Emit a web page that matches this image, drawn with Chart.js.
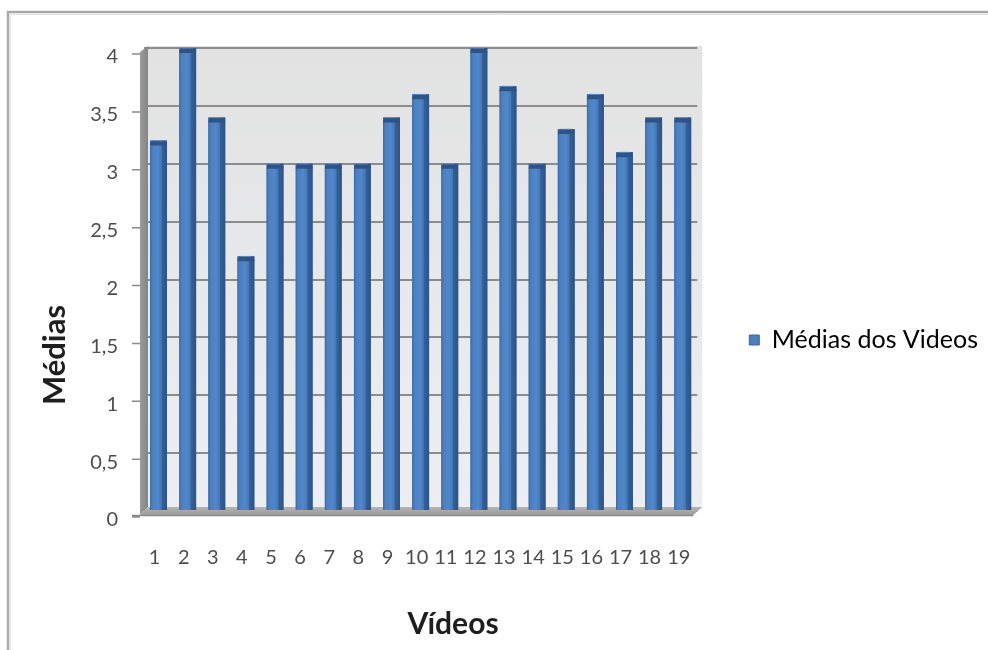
<!DOCTYPE html>
<html>
<head>
<meta charset="utf-8">
<script src="https://cdn.jsdelivr.net/npm/chart.js@4/dist/chart.umd.min.js"></script>
<style>
  html, body { margin: 0; padding: 0; background: #ffffff; }
  #wrap { width: 988px; height: 650px; position: relative; }
</style>
</head>
<body>
<div id="wrap"><canvas id="c" width="988" height="650"></canvas></div>
<script>
// Average score per video
const videoLabels = ['1','2','3','4','5','6','7','8','9','10','11','12','13','14','15','16','17','18','19'];
const videoMeans = [3.2, 4, 3.4, 2.2, 3, 3, 3, 3, 3.4, 3.6, 3, 4, 3.67, 3, 3.3, 3.6, 3.1, 3.4, 3.4];
const yTickLabels = ['0','0,5','1','1,5','2','2,5','3','3,5','4'];
const seriesName = 'Médias dos Videos';
const xTitle = 'Vídeos';
const yTitle = 'Médias';

const FONT = 'Lato, "Open Sans", sans-serif';

// Frame, back wall, side wall, floor and bar shading in the Excel 3D style
const excel3d = {
  id: 'excel3d',
  beforeDraw(chart) {
    const { ctx, chartArea: a } = chart;
    ctx.save();
    ctx.fillStyle = '#ffffff';
    ctx.fillRect(0, 0, chart.width, chart.height);
    // outer frame
    ctx.strokeStyle = '#a9a9a9';
    ctx.lineWidth = 2.5;
    ctx.beginPath();
    ctx.moveTo(8, chart.height);
    ctx.lineTo(8, 12);
    ctx.lineTo(chart.width, 12);
    ctx.stroke();
    ctx.strokeStyle = 'rgba(200,200,200,0.5)';
    ctx.lineWidth = 1;
    ctx.beginPath();
    ctx.moveTo(10.5, chart.height);
    ctx.lineTo(10.5, 14.5);
    ctx.lineTo(chart.width, 14.5);
    ctx.stroke();
    // back wall
    const g = ctx.createLinearGradient(0, a.top, 0, a.bottom);
    g.addColorStop(0, '#e2e2e2');
    g.addColorStop(1, '#eceef2');
    ctx.fillStyle = g;
    ctx.fillRect(a.left + 4, a.top - 2, a.right - a.left + 1, a.bottom - a.top);
    ctx.restore();
  },
  beforeDatasetsDraw(chart) {
    const { ctx, chartArea: a } = chart;
    const y = chart.scales.y;
    ctx.save();
    // left side wall
    const gw = ctx.createLinearGradient(a.left - 4, 0, a.left + 4, 0);
    gw.addColorStop(0, '#9a9a9a');
    gw.addColorStop(1, '#858585');
    ctx.fillStyle = gw;
    ctx.beginPath();
    ctx.moveTo(a.left - 4, a.top + 4);
    ctx.lineTo(a.left + 4, a.top - 2);
    ctx.lineTo(a.left + 4, a.bottom - 4);
    ctx.lineTo(a.left - 4, a.bottom + 4);
    ctx.closePath();
    ctx.fill();
    // floor
    const gf = ctx.createLinearGradient(0, a.bottom - 4, 0, a.bottom + 4);
    gf.addColorStop(0, '#b4b4b4');
    gf.addColorStop(1, '#9c9c9c');
    ctx.fillStyle = gf;
    ctx.beginPath();
    ctx.moveTo(a.left + 4, a.bottom - 4);
    ctx.lineTo(a.right + 5, a.bottom - 4);
    ctx.lineTo(a.right - 4, a.bottom + 4);
    ctx.lineTo(a.left - 4, a.bottom + 4);
    ctx.closePath();
    ctx.fill();
    // front axis edge and tick marks
    ctx.strokeStyle = '#8a8a8a';
    ctx.lineWidth = 1.5;
    ctx.beginPath();
    ctx.moveTo(a.left - 12, a.bottom + 4.5);
    ctx.lineTo(a.right - 4, a.bottom + 4.5);
    y.ticks.forEach(t => {
      const py = y.getPixelForValue(t.value) + 6;
      ctx.moveTo(a.left - 12, py);
      ctx.lineTo(a.left - 4, py);
    });
    ctx.stroke();
    ctx.restore();
  },
  afterDatasetsDraw(chart) {
    const { ctx } = chart;
    const meta = chart.getDatasetMeta(0);
    ctx.save();
    meta.data.forEach(bar => {
      const { x, y, base, width } = bar.getProps(['x', 'y', 'base', 'width'], true);
      const l = x - width / 2, r = x + width / 2;
      const g = ctx.createLinearGradient(l, 0, r, 0);
      g.addColorStop(0, '#3a67a2');
      g.addColorStop(0.12, '#4a7fc0');
      g.addColorStop(0.45, '#5188cb');
      g.addColorStop(0.66, '#4678b5');
      g.addColorStop(0.72, '#33609a');
      g.addColorStop(1, '#2b5488');
      ctx.fillStyle = g;
      ctx.fillRect(l, y, width, base - y);
      // top cap
      ctx.fillStyle = '#2d5387';
      ctx.beginPath();
      ctx.moveTo(l, y + 5);
      ctx.quadraticCurveTo(l, y, l + 4, y);
      ctx.lineTo(r - 4, y);
      ctx.quadraticCurveTo(r, y, r, y + 5);
      ctx.closePath();
      ctx.fill();
      ctx.fillStyle = 'rgba(120,160,210,0.6)';
      ctx.fillRect(l + 3, y - 0.5, width - 6, 1.2);
    });
    ctx.restore();
  },
  afterDraw(chart) {
    const { ctx } = chart;
    ctx.save();
    ctx.fillStyle = '#1e1e1e';
    ctx.textAlign = 'center';
    ctx.textBaseline = 'middle';
    ctx.font = 'bold 30px ' + FONT;
    ctx.fillText(xTitle, 453, 624);
    ctx.translate(55, 355);
    ctx.rotate(-Math.PI / 2);
    ctx.font = 'bold 31px ' + FONT;
    ctx.fillText(yTitle, 0, 0);
    ctx.restore();
  }
};

new Chart(document.getElementById('c'), {
  type: 'bar',
  data: {
    labels: videoLabels,
    datasets: [{
      label: seriesName,
      data: videoMeans,
      backgroundColor: '#4a7ebf',
      borderWidth: 0,
      barPercentage: 0.58,
      categoryPercentage: 1
    }]
  },
  options: {
    responsive: false,
    animation: false,
    devicePixelRatio: 1,
    layout: { padding: { left: 0, right: 0, top: 48, bottom: 18 } },
    plugins: {
      tooltip: { enabled: false },
      legend: {
        position: 'right',
        maxWidth: 320,
        labels: {
          boxWidth: 10,
          boxHeight: 10,
          padding: 10,
          color: '#404040',
          font: { family: FONT, size: 25 },
          generateLabels(chart) {
            return [{
              text: seriesName,
              fillStyle: '#4a7ebf',
              strokeStyle: '#3a67a2',
              lineWidth: 1,
              datasetIndex: 0
            }];
          }
        }
      }
    },
    scales: {
      x: {
        grid: { display: false },
        border: { display: false },
        ticks: {
          color: '#4d4d4d',
          font: { family: FONT, size: 20 },
          padding: 27,
          labelOffset: -4,
          maxRotation: 0,
          autoSkip: false
        },
        afterFit(s) { s.height = 121; }
      },
      y: {
        min: 0,
        max: 4,
        grid: { color: '#8c8c8c', lineWidth: 2, drawTicks: false },
        border: { display: false },
        ticks: {
          stepSize: 0.5,
          color: '#4d4d4d',
          font: { family: FONT, size: 20 },
          padding: 26,
          labelOffset: 9,
          callback: (v, i) => yTickLabels[i]
        },
        afterFit(s) { s.width = 144; }
      },
      gap: {
        position: 'right',
        display: true,
        grid: { display: false },
        border: { display: false },
        ticks: { display: false },
        afterFit(s) { s.width = 42; }
      }
    }
  },
  plugins: [excel3d]
});
</script>
</body>
</html>
